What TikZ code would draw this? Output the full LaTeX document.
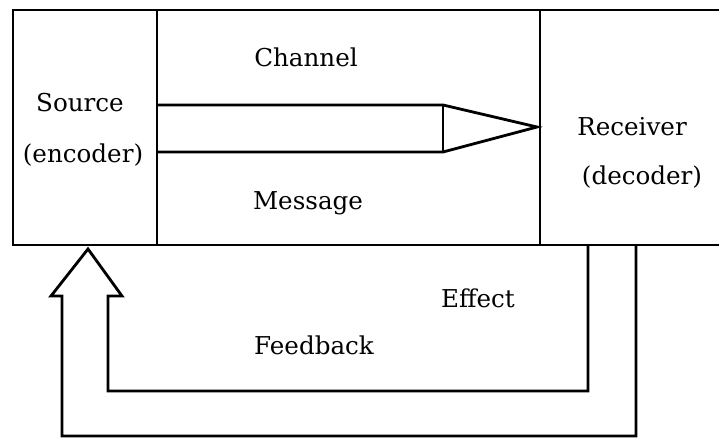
\documentclass[tikz,border=0pt]{standalone}
\usepackage{fontspec}
\setmainfont{DejaVu Serif}
\usepackage{tikz}

\begin{document}
\begin{tikzpicture}[x=0.02cm,y=-0.02cm]
\tikzset{lbl/.style={font=\fontsize{14}{16}\selectfont, inner sep=0pt},
         ln/.style={draw, line width=1.6pt, line join=miter}}
\useasboundingbox (0,0) rectangle (719,438);

% frame with source and receiver
\path[ln] (719,10) -- (13,10) -- (13,245) -- (719,245);
\path[ln] (157,10) -- (157,245);
\path[ln] (540,10) -- (540,245);

% channel arrow
\path[ln] (157,105) -- (443,105) -- (537,127) -- (443,152) -- (157,152);
\path[ln] (443,105) -- (443,152);

% feedback arrow
\path[ln] (636,245) -- (636,436) -- (62,436) -- (62,296) -- (51,296) -- (88,249)
  -- (122,296) -- (108,296) -- (108,391) -- (588,391) -- (588,245);

\node[lbl] (src) at (80,103) {Source};
\node[lbl] (enc) at (83,155) {(encoder)};
\node[lbl] (chn) at (306,57) {Channel};
\node[lbl] (msg) at (308,203) {Message};
\node[lbl] (rcv) at (632,127) {Receiver};
\node[lbl] (dec) at (642,177) {(decoder)};
\node[lbl] (eff) at (478,298) {Effect};
\node[lbl] (fb) at (314,345) {Feedback};
\end{tikzpicture}
\end{document}
